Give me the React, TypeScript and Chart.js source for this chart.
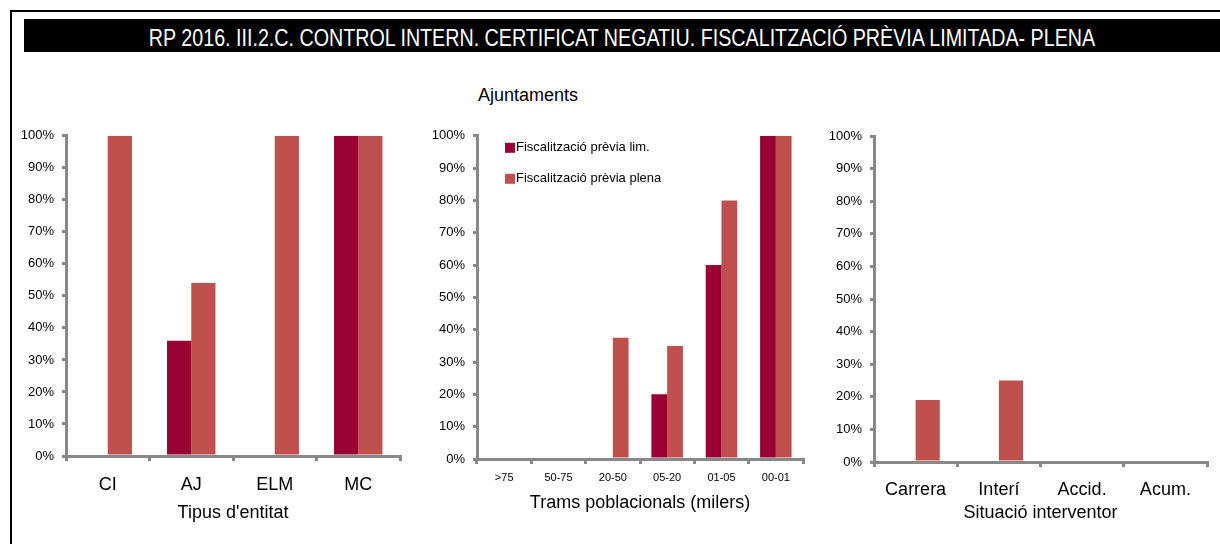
import React, { useEffect, useRef } from "react";
import { Chart, registerables } from "chart.js";

Chart.register(...registerables);

// ---------- data ----------
const SERIES_LABELS = ["Fiscalització prèvia lim.", "Fiscalització prèvia plena"];
const LIM_COLOR = "#990033";
const PLENA_COLOR = "#C0504D";
const AXIS_GRAY = "#888888";

const entityCategories = ["CI", "AJ", "ELM", "MC"];
const entityLim = [0, 36, 0, 100];
const entityPlena = [100, 54, 100, 100];

const trancheCategories = [">75", "50-75", "20-50", "05-20", "01-05", "00-01"];
const trancheLim = [0, 0, 0, 20, 60, 100];
const tranchePlena = [0, 0, 37.5, 35, 80, 100];

const situationCategories = ["Carrera", "Interí", "Accid.", "Acum."];
const situationLim = [0, 0, 0, 0];
const situationPlena = [19, 25, 0, 0];

const Y_MIN = 0;
const Y_MAX = 100;
const Y_STEP = 10;

const MAIN_TITLE =
  "RP 2016. III.2.C. CONTROL INTERN. CERTIFICAT NEGATIU. FISCALITZACIÓ PRÈVIA LIMITADA- PLENA";
const MIDDLE_HEADING = "Ajuntaments";

const FONT = '"Liberation Sans", Arial, sans-serif';

Chart.defaults.font.family = FONT;
Chart.defaults.color = "#000";

const makeInsideLegend = (offsetX: number, offsetY: number, rowGap: number) => ({
  id: "insideLegend",
  afterDatasetsDraw(chart: any) {
    const { ctx, chartArea } = chart;
    ctx.save();
    ctx.font = `13px ${FONT}`;
    ctx.textBaseline = "middle";
    chart.data.datasets.forEach((ds: any, i: number) => {
      const x = chartArea.left + offsetX;
      const y = chartArea.top + offsetY + i * rowGap;
      ctx.fillStyle = ds.backgroundColor;
      ctx.fillRect(x, y - 5, 10, 10);
      ctx.fillStyle = "#000";
      ctx.fillText(ds.label, x + 11, y);
    });
    ctx.restore();
  },
});

type PanelProps = {
  labels: string[];
  lim: number[];
  plena: number[];
  left: number;
  top: number;
  width: number;
  height: number;
  yWidth: number;
  xHeight: number;
  pad: { top: number; right: number; bottom: number; left: number };
  tickSize: number;
  tickPad: number;
  title: string;
  titlePadBottom: number;
  legend?: boolean;
};

function Panel(p: PanelProps) {
  const ref = useRef<HTMLCanvasElement | null>(null);
  useEffect(() => {
    if (!ref.current) return;
    const chart = new Chart(ref.current, {
      type: "bar",
      data: {
        labels: p.labels,
        datasets: [
          {
            label: SERIES_LABELS[0],
            data: p.lim,
            backgroundColor: LIM_COLOR,
            categoryPercentage: 0.58,
            barPercentage: 1,
            borderWidth: 0,
          },
          {
            label: SERIES_LABELS[1],
            data: p.plena,
            backgroundColor: PLENA_COLOR,
            categoryPercentage: 0.58,
            barPercentage: 1,
            borderWidth: 0,
          },
        ],
      },
      options: {
        responsive: false,
        animation: false,
        devicePixelRatio: 1,
        layout: { padding: p.pad },
        plugins: {
          legend: { display: false },
          tooltip: { enabled: false },
          title: { display: false },
        },
        scales: {
          x: {
            grid: {
              display: true,
              drawOnChartArea: false,
              drawTicks: true,
              tickLength: 5,
              color: AXIS_GRAY,
              lineWidth: 3,
              offset: true,
            },
            border: { display: true, color: AXIS_GRAY, width: 3 },
            ticks: {
              font: { size: p.tickSize },
              color: "#000",
              padding: p.tickPad,
              maxRotation: 0,
              autoSkip: false,
            },
            title: {
              display: true,
              text: p.title,
              font: { size: 18 },
              color: "#000",
              padding: { top: 0, bottom: p.titlePadBottom },
            },
            afterFit: (s: any) => {
              s.height = p.xHeight;
            },
          },
          y: {
            min: Y_MIN,
            max: Y_MAX,
            ticks: {
              stepSize: Y_STEP,
              callback: (v: any) => `${v}%`,
              font: { size: 13 },
              color: "#000",
              padding: 8,
            },
            grid: {
              drawOnChartArea: false,
              drawTicks: true,
              tickLength: 4,
              color: AXIS_GRAY,
              lineWidth: 3,
            },
            border: { display: true, color: AXIS_GRAY, width: 3 },
            afterFit: (s: any) => {
              s.width = p.yWidth;
            },
          },
        },
      } as any,
      plugins: p.legend ? [makeInsideLegend(28, 12, 31)] : [],
    });
    return () => chart.destroy();
  }, []);
  return (
    <canvas
      ref={ref}
      width={p.width}
      height={p.height}
      style={{
        position: "absolute",
        left: p.left,
        top: p.top,
        width: p.width,
        height: p.height,
      }}
    />
  );
}

export default function App() {
  return (
    <div
      style={{
        position: "absolute",
        left: 0,
        top: 0,
        width: 1220,
        height: 544,
        background: "#fff",
        overflow: "hidden",
        fontFamily: FONT,
      }}
    >
      <div
        style={{
          position: "absolute",
          left: 10,
          top: 10,
          width: 1210,
          height: 540,
          borderLeft: "2px solid #000",
          borderTop: "2px solid #000",
        }}
      />
      <div
        style={{
          position: "absolute",
          left: 24,
          top: 19,
          width: 1196,
          height: 33,
          background: "#000",
          color: "#fff",
          textAlign: "center",
          fontFamily: FONT,
          fontSize: 24,
          lineHeight: "37px",
          whiteSpace: "nowrap",
          overflow: "hidden",
        }}
      >
        <span
          style={{
            display: "inline-block",
            transform: "scaleX(0.82)",
            transformOrigin: "50% 50%",
          }}
        >
          {MAIN_TITLE}
        </span>
      </div>
      <div
        style={{
          position: "absolute",
          left: 478,
          top: 84,
          fontSize: 18,
          lineHeight: "22px",
          color: "#000",
          whiteSpace: "nowrap",
        }}
      >
        {MIDDLE_HEADING}
      </div>
      <Panel
        labels={entityCategories}
        lim={entityLim}
        plena={entityPlena}
        left={14}
        top={120}
        width={400}
        height={424}
        yWidth={52}
        xHeight={88}
        pad={{ top: 14, right: 14, bottom: 0, left: 0 }}
        tickSize={18}
        tickPad={13}
        title="Tipus d'entitat"
        titlePadBottom={20}
      />
      <Panel
        labels={trancheCategories}
        lim={trancheLim}
        plena={tranchePlena}
        left={414}
        top={120}
        width={400}
        height={424}
        yWidth={63}
        xHeight={85}
        pad={{ top: 14, right: 11, bottom: 0, left: 0 }}
        tickSize={11}
        tickPad={7}
        title="Trams poblacionals (milers)"
        titlePadBottom={30}
        legend
      />
      <Panel
        labels={situationCategories}
        lim={situationLim}
        plena={situationPlena}
        left={814}
        top={120}
        width={406}
        height={424}
        yWidth={60}
        xHeight={82}
        pad={{ top: 16, right: 13, bottom: 0, left: 0 }}
        tickSize={18}
        tickPad={12}
        title="Situació interventor"
        titlePadBottom={20}
      />
    </div>
  );
}
